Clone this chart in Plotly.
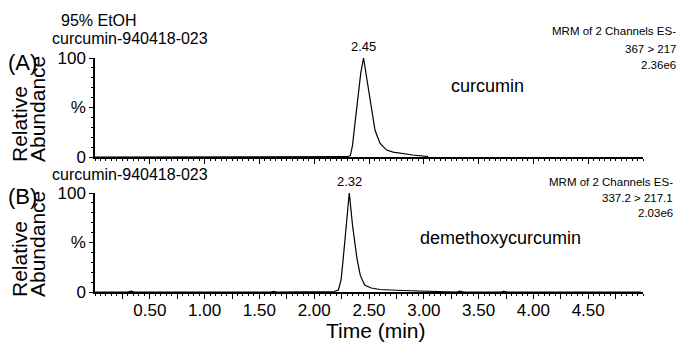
import plotly.graph_objects as go

# ---------------- data ----------------
time_a = [0.00, 2.20, 2.30, 2.33, 2.35, 2.37, 2.40, 2.425, 2.45, 2.47, 2.495, 2.52,
          2.555, 2.60, 2.66, 2.72, 2.78, 2.90, 3.04]
abund_a = [0, 0, 0.3, 1.5, 12, 32, 62, 85, 100, 86, 67, 47, 27, 14, 7, 5, 4, 2, 0.5]

time_b = [0.00, 0.30, 0.33, 0.36, 1.60, 1.63, 1.66, 2.10, 2.18, 2.22, 2.245, 2.265,
          2.29, 2.32, 2.35, 2.39, 2.42, 2.46, 2.52, 2.60, 2.80, 3.00, 3.15, 3.30,
          3.33, 3.36, 3.70, 3.73, 3.76, 4.10, 4.13, 4.16, 4.60, 4.63, 4.66, 4.98]
abund_b = [0, 0, 0.8, 0, 0, 0.6, 0, 0, 0.5, 2, 12, 34, 67, 100, 67, 34, 17, 7, 4,
           2.5, 1.5, 1, 0.5, 0, 0.8, 0, 0, 0.7, 0, 0, 0.6, 0, 0, 0.5, 0, 0]

peak_a = 2.45
peak_b = 2.32

x_tick_vals = [0.25, 0.50, 0.75, 1.00, 1.25, 1.50, 1.75, 2.00, 2.25, 2.50, 2.75,
               3.00, 3.25, 3.50, 3.75, 4.00, 4.25, 4.50, 4.75]
x_tick_text = ["", "0.50", "", "1.00", "", "1.50", "", "2.00", "", "2.50", "",
               "3.00", "", "3.50", "", "4.00", "", "4.50", ""]
y_tick_vals = [0, 50, 100]
y_tick_text = ["0", "%", "100"]

compound_a = "curcumin"
compound_b = "demethoxycurcumin"
header_a = ["95% EtOH", "curcumin-940418-023"]
header_b = ["curcumin-940418-023"]
mrm_a = ["MRM of 2 Channels ES-", "367 > 217", "2.36e6"]
mrm_b = ["MRM of 2 Channels ES-", "337.2 > 217.1", "2.03e6"]

# ---------------- layout helpers ----------------
W, H = 683, 342
FONT = "Arial, 'Liberation Sans', Helvetica, sans-serif"


def px(x):
    return x / W


def py(y):
    return 1 - y / H


fig = go.Figure()
fig.add_trace(go.Scatter(x=time_a, y=abund_a, mode="lines",
                         line=dict(color="black", width=1.2),
                         xaxis="x", yaxis="y", showlegend=False))
fig.add_trace(go.Scatter(x=time_b, y=abund_b, mode="lines",
                         line=dict(color="black", width=1.2),
                         xaxis="x2", yaxis="y2", showlegend=False))

xdom = [px(95), px(643)]
common_x = dict(range=[0, 5.0], showgrid=False, zeroline=False,
                showline=True, linecolor="black", linewidth=1.5,
                ticks="outside", ticklen=5, tickwidth=1, tickcolor="black",
                tickvals=x_tick_vals, ticktext=x_tick_text,
                minor=dict(dtick=0.05, tick0=0, ticks="outside", ticklen=2.5,
                           tickcolor="black", tickwidth=1),
                tickfont=dict(family=FONT, size=17, color="black"),
                domain=xdom, fixedrange=True, automargin=False)
common_y = dict(range=[0, 100], showgrid=False, zeroline=False,
                showline=True, linecolor="black", linewidth=1.5,
                ticks="outside", ticklen=4, tickwidth=1, tickcolor="black",
                tickvals=y_tick_vals, ticktext=y_tick_text,
                minor=dict(dtick=10, tick0=0, ticks="outside", ticklen=2,
                           tickcolor="black", tickwidth=1),
                tickfont=dict(family=FONT, size=17, color="black"),
                fixedrange=True, automargin=False)

fig.update_layout(
    width=W, height=H,
    margin=dict(l=0, r=0, t=0, b=0, autoexpand=False),
    paper_bgcolor="white", plot_bgcolor="white",
    font=dict(family=FONT, color="black"),
    xaxis=dict(common_x, anchor="y", showticklabels=False),
    yaxis=dict(common_y, anchor="x", domain=[py(157), py(58)]),
    xaxis2=dict(common_x, anchor="y2", showticklabels=True, ticklabelstandoff=-3),
    yaxis2=dict(common_y, anchor="x2", domain=[py(292), py(193)]),
)

ann = []


def add(text, x, y, size, xanchor="center", yanchor="middle", angle=0, **kw):
    ann.append(dict(text=text, x=px(x), y=py(y), xref="paper", yref="paper",
                    xanchor=xanchor, yanchor=yanchor, showarrow=False,
                    textangle=angle, font=dict(family=FONT, size=size, color="black"),
                    **kw))


# headers panel A
add(header_a[0], 99, 21, 16)
add(header_a[1], 130, 38, 16)
# header panel B
add(header_b[0], 130, 174, 16)
# panel letters
add("(A)", 22, 62, 22)
add("(B)", 22, 196, 22)
# rotated y labels
for off in (0, 135):
    add("Relative", 19, 164 + off, 21, yanchor="bottom", angle=-90)
    add("Abundance", 37, 164 + off, 21, yanchor="bottom", angle=-90)
# MRM info
for i, (ya, yb) in enumerate(zip([31.5, 48.5, 64.5], [182.5, 197.5, 212.5])):
    add(mrm_a[i], 678, ya, 11.5, xanchor="right")
    add(mrm_b[i], 675, yb, 11.5, xanchor="right")
# compound names
add(compound_a, 487, 86, 18)
add(compound_b, 500, 238, 18)
# peak labels (data coords)
ann.append(dict(text=f"{peak_a:.2f}", x=peak_a, y=100, xref="x", yref="y",
                yanchor="bottom", yshift=2, showarrow=False,
                font=dict(family=FONT, size=13, color="black")))
ann.append(dict(text=f"{peak_b:.2f}", x=peak_b, y=100, xref="x2", yref="y2",
                yanchor="bottom", yshift=2, showarrow=False,
                font=dict(family=FONT, size=13, color="black")))
# x axis title
add("Time (min)", 376, 330, 21)

fig.update_layout(annotations=ann)
fig.write_html("out.html")
